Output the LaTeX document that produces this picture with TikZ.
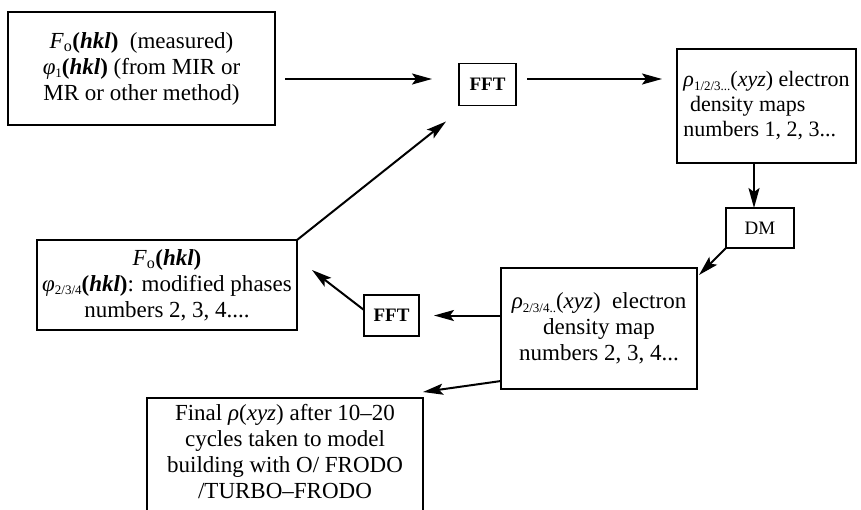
\documentclass[tikz,border=0pt]{standalone}
\usepackage{fontspec}
\setmainfont{Liberation Serif}
\usetikzlibrary{arrows.meta,calc}
\newcommand{\lowsub}[1]{\raisebox{-0.35ex}{\fontsize{13pt}{13pt}\selectfont #1}}
\newcommand{\hklb}{\textbf{(\textit{hkl})}}
\begin{document}
\begin{tikzpicture}[x=1pt,y=-1pt,
  box/.style={draw, line width=1.5pt, inner sep=0pt, outer sep=0pt, align=center,
    font=\fontsize{23pt}{26pt}\selectfont},
  smallbox/.style={box, font=\fontsize{19pt}{22pt}\selectfont\bfseries},
  arr/.style={line width=2pt, -{Stealth[length=20pt,width=11pt,inset=4pt]}},
  txt/.style={inner sep=0pt, align=center, font=\fontsize{23pt}{26pt}\selectfont}
]
\useasboundingbox (0,0) rectangle (861,509);
\clip (0,0) rectangle (861,509);

% boxes
\node[box, minimum width=267pt, minimum height=113pt] (box1) at (141.5,68.5)
  {\textit{F}\textsubscript{o}\hklb\ \ (measured)\\
   \textit{φ}\lowsub{1}\hklb\ (from MIR or\\
   MR or other method)};
\node[smallbox, minimum width=57pt, minimum height=42pt] (fft1) at (487.5,84.5) {FFT};
\node[box, minimum width=179pt, minimum height=114pt, align=left,
  font=\fontsize{22pt}{25pt}\selectfont] (box3) at (766.5,106)
  {\textit{ρ}\lowsub{1/2/3...}(\textit{xyz}) electron\\
   \hspace{0.3em}density maps\\
   numbers 1, 2, 3...};
\node[box, minimum width=68pt, minimum height=40pt, font=\fontsize{19pt}{22pt}\selectfont] (dm) at (760,228) {DM};
\node[box, minimum width=196pt, minimum height=121pt] (box4) at (599,328.5)
  {\textit{ρ}\lowsub{2/3/4..}(\textit{xyz})\ \ electron\\
   density map\\
   numbers 2, 3, 4...};
\node[smallbox, minimum width=55pt, minimum height=41pt] (fft2) at (391.5,315.5) {FFT};
\node[box, minimum width=260pt, minimum height=90pt] (box2) at (167,285)
  {\textit{F}\textsubscript{o}\hklb\\
   \textit{φ}\lowsub{2/3/4}\hklb: modified phases\\
   numbers 2, 3, 4....};
\node[box, minimum width=276pt, minimum height=130pt, anchor=north] (final) at (285,398) {};
\node[txt] (finaltext) at (285,452)
  {Final \textit{ρ}(\textit{xyz}) after 10–20\\
   cycles taken to model\\
   building with O/ FRODO\\
   /TURBO–FRODO};
\coordinate (row) at (0,79);

% connectors
\draw[arr] ([xshift=10pt]box1.east |- row) -- ([xshift=-27pt]fft1.west |- row);
\draw[arr] ([xshift=11pt]fft1.east |- row) -- ([xshift=-15pt]box3.west |- row);
\draw[arr] ([xshift=-6pt]dm.north |- box3.south) -- ([xshift=-6pt]dm.north);
\draw[arr] (dm.south west) -- ([shift={(2,7)}]box4.north east);
\draw[arr] (box4.west |- fft2.east) -- ([xshift=15pt]fft2.east);
\draw[arr] ([shift={(0,15)}]fft2.north west) -- ([shift={(15,30)}]box2.north east);
\draw[arr] (box2.north east) -- ([shift={(-13,16)}]fft1.south west);
\draw[arr] ([shift={(0,-8)}]box4.south west) -- ([shift={(0,-6)}]final.north east);
\end{tikzpicture}
\end{document}
